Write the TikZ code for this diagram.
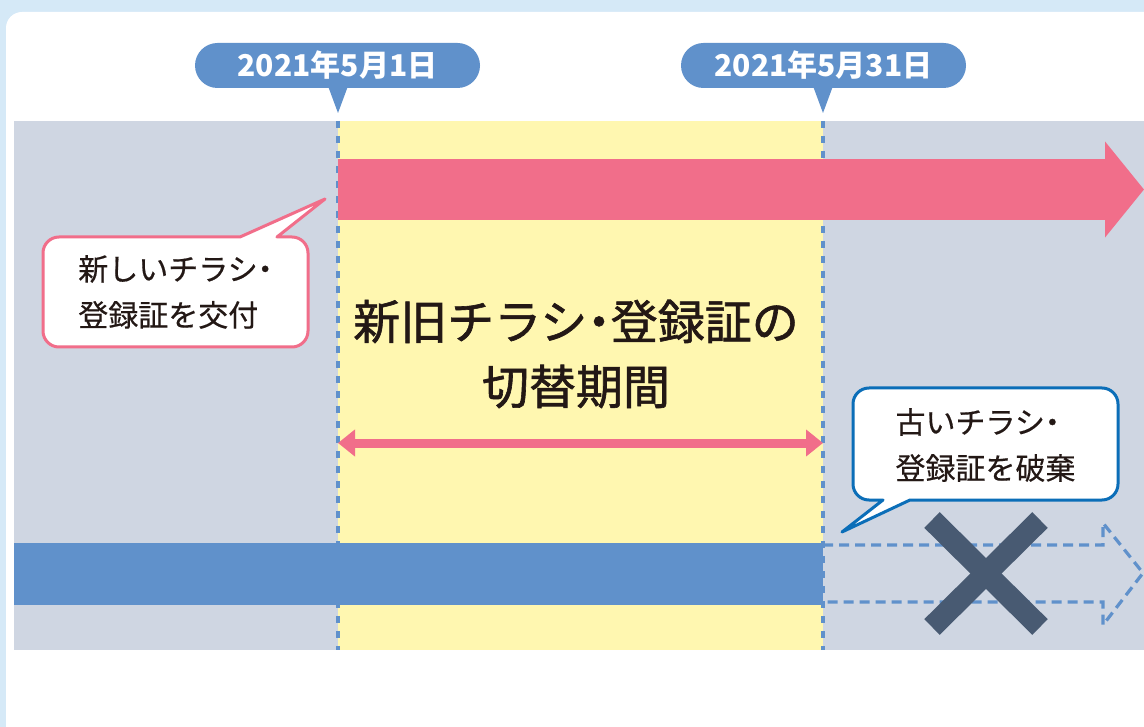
\documentclass[tikz,border=0pt]{standalone}
\usepackage{fontspec}
\newfontfamily\jpfont{Noto Sans CJK JP}
\newfontfamily\jpnote[FakeBold=0.5]{Noto Sans CJK JP}
\newfontfamily\jpbig[FakeBold=1.3]{Noto Sans CJK JP}
\newcommand\middot{\kern-0.25em・\kern-0.25em}
\usepackage{tikz}
\usetikzlibrary{arrows.meta, positioning, calc}
\definecolor{pageblue}{HTML}{D5E9F7}
\definecolor{bandgray}{HTML}{CFD6E2}
\definecolor{periodyellow}{HTML}{FFF7B0}
\definecolor{datablue}{HTML}{6091CB}
\definecolor{newpink}{HTML}{F16E8A}
\definecolor{noteblue}{HTML}{0B6EB8}
\definecolor{crossslate}{HTML}{485A72}
\definecolor{inkdark}{HTML}{231815}

\begin{document}
\begin{tikzpicture}[x=1pt, y=-1pt,
      datepill/.style={fill=datablue, text=white, rounded corners=22.5pt,
                    font=\jpfont\bfseries\fontsize{30}{34}\selectfont,
                    minimum width=285pt, minimum height=45pt, inner sep=0pt},
      notetext/.style={text=inkdark, align=left, inner sep=0pt,
                    font=\jpnote\fontsize{30}{46}\selectfont},
      bigtext/.style={text=inkdark, align=center, inner sep=0pt,
                    font=\jpbig\fontsize{47}{65}\selectfont},
      boundary/.style={datablue, line width=3.5pt, dash pattern=on 7pt off 8pt},
      newnote/.style={draw=newpink, fill=white, line width=3pt, line join=round},
      oldnote/.style={draw=noteblue, fill=white, line width=3pt, line join=round},
      span/.style={newpink, line width=9pt,
                    {Triangle[length=17pt,width=26pt]}-{Triangle[length=17pt,width=26pt]}}
    ]
      \useasboundingbox (0,0) rectangle (1144,727);
      \fill[pageblue] (0,0) rectangle (1144,727);
      \fill[white, rounded corners=16pt] (6,12) rectangle (1170,760);
      \fill[bandgray] (14,121) rectangle (1144,650);
      \fill[periodyellow] (338,121) rectangle (823,650);

      \coordinate (d1top) at (338,121);
      \coordinate (d1bot) at (338,650);
      \coordinate (d2top) at (823,121);
      \coordinate (d2bot) at (823,650);
      \draw[boundary] (d1top) -- (d1bot);
      \draw[boundary] (d2top) -- (d2bot);

      \coordinate (newstart) at (338,189.5);
      \coordinate (newend) at (1144,189.5);
      \draw[newpink, line width=61pt, -{Triangle[length=39pt,width=94pt]}] (newstart) -- (newend);

      \coordinate (oldstart) at (14,574);
      \coordinate (oldend) at (823,574);
      \draw[datablue, line width=62pt] (oldstart) -- (oldend);
      \draw[datablue, line width=3.2pt, dash pattern=on 10pt off 6pt]
        (823,545) -- (1103,545) -- (1103,523) -- (1143,573) -- (1103,625) -- (1103,602) -- (823,602);
      \draw[crossslate, line width=22pt] (932,520) -- (1040,627);
      \draw[crossslate, line width=22pt] (1040,520) -- (932,627);

      \draw[newnote] (160,237) -- (240,237) -- (325,199) -- (277,237) [rounded corners=16pt]
        -- (308,237) -- (308,347) -- (43,347) -- (43,237) [sharp corners] -- cycle;
      \node[notetext] (newtext) at (175.5,292) {新しいチラシ\middot\\登録証を交付};

      \draw[oldnote] (1000,500) -- (910,500) -- (842,532) -- (883,500) [rounded corners=16pt]
        -- (853,500) -- (853,388) -- (1118,388) -- (1118,500) [sharp corners] -- cycle;
      \node[notetext] (oldtext) at (985.5,445) {古いチラシ\middot\\登録証を破棄};

      \node[bigtext] (period) at (576,354) {新旧チラシ\middot 登録証の\\切替期間};
      \draw[span] (338,443) -- (823,443);

      \node[datepill] (startdate) at (337.5,65.5) {2021年5月1日};
      \node[datepill] (enddate) at (823.5,65.5) {2021年5月31日};
      \fill[datablue] (328,86) -- (338,113) -- (348,86) -- cycle;
      \fill[datablue] (813,86) -- (823,113) -- (833,86) -- cycle;
    \end{tikzpicture}
\end{document}
